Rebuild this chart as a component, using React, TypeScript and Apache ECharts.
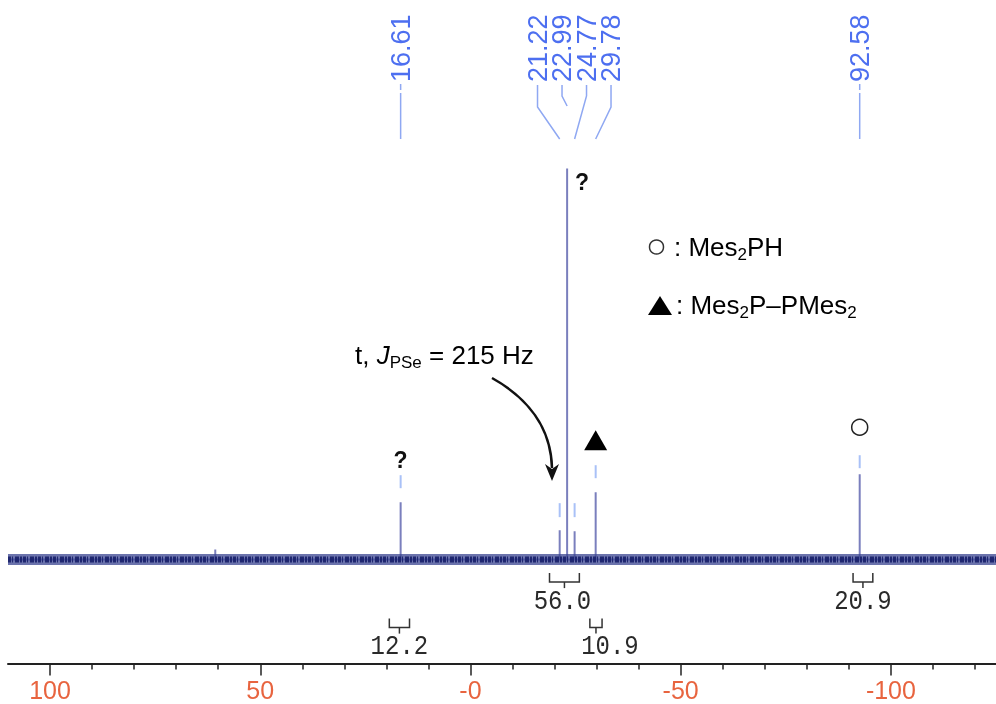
import React, { useEffect, useRef } from "react";
import * as echarts from "echarts";

// x axis (ppm)
const axisMin = -125;
const axisMax = 110;
const majorTicks = [100, 50, 0, -50, -100];
const minorTicks = [90, 80, 70, 60, 40, 30, 20, 10, -10, -20, -30, -40, -60, -70, -80, -90, -110, -120];

// spectrum peaks (ppm, relative intensity)
const peakPpm = [60.7, 16.61, -21.22, -22.99, -24.77, -29.78, -92.58];
const peakIntensity = [10, 57.5, 29.5, 391.5, 28.5, 67.5, 85.5];

// peak-pick labels
const labelPpm = [16.61, -21.22, -22.99, -24.77, -29.78, -92.58];
const labelText = ["16.61", "21.22", "22.99", "24.77", "29.78", "92.58"];
const labelGroup = [0, 1, 1, 1, 1, 2];

// peak-pick markers
const markerPpm = [16.61, -21.22, -24.77, -29.78, -92.58];
const markerLow = [71.5, 42.5, 42.5, 81.5, 91.5];
const markerHigh = [84.5, 56.5, 56.5, 94.5, 104.5];

// integrals
const integralFrom = [19.3, -18.8, -28.4, -91.0];
const integralTo = [14.5, -25.9, -31.3, -95.7];
const integralValue = ["12.2", "56.0", "10.9", "20.9"];
const integralRow = [1, 0, 1, 0];

// annotations
const questionPpm = [16.61, -22.99];
const questionLevel = [100, 378];
const trianglePoint = [[-29.78, 119.5]];
const circlePoint = [[-92.58, 132.5]];

// layout-only constants
const LABEL_GAP = 24.5;
const shortLead = [false, false, true, false, false, false];
const integralTextDx = [0, -2, 14, 0];
const questionDx = [0, 15];

const FONT = '"Liberation Sans", Arial, sans-serif';

export default function App() {
  const ref = useRef<HTMLDivElement>(null);

  useEffect(() => {
    if (!ref.current) return;
    const chart = echarts.init(ref.current, undefined, { renderer: "svg" });

    const spectrum: number[][] = [[axisMax, 0]];
    peakPpm.forEach((p, i) => {
      spectrum.push([p, 0], [p, peakIntensity[i]], [p, 0]);
    });
    spectrum.push([axisMin, 0]);

    const sub = { fontSize: 17, lineHeight: 17, verticalAlign: "bottom", fontFamily: FONT, color: "#111" };
    const norm = { fontSize: 26, lineHeight: 32, fontFamily: FONT, color: "#111" };

    chart.setOption({
      animation: false,
      textStyle: { fontFamily: FONT },
      grid: { left: 8, right: 0, top: 160, bottom: 40.5 },
      xAxis: [
        {
          type: "value",
          min: axisMin,
          max: axisMax,
          inverse: true,
          position: "bottom",
          splitLine: { show: false },
          axisLine: { onZero: false, lineStyle: { color: "#222", width: 2 } },
          axisTick: { customValues: majorTicks, length: 12, lineStyle: { color: "#222", width: 1.5 } },
          axisLabel: {
            customValues: majorTicks,
            formatter: (v: number) => (v === 0 ? "-0" : String(v)),
            color: "#e8643f",
            fontSize: 25,
            fontFamily: FONT,
            margin: 14,
          },
        },
        {
          type: "value",
          min: axisMin,
          max: axisMax,
          inverse: true,
          position: "bottom",
          splitLine: { show: false },
          axisLine: { show: false, onZero: false },
          axisTick: { customValues: minorTicks, length: 6, lineStyle: { color: "#222", width: 1.5 } },
          axisLabel: { show: false },
        },
      ],
      yAxis: { type: "value", min: -104, max: 400, show: false },
      series: [
        {
          type: "line",
          data: spectrum,
          showSymbol: false,
          silent: true,
          lineStyle: { color: "#7a7fbd", width: 2 },
          z: 2,
        },
        {
          type: "line",
          data: [[axisMax, 0], [axisMin, 0]],
          showSymbol: false,
          silent: true,
          lineStyle: { color: "#3a4490", width: 11, opacity: 0.75 },
          z: 3,
        },
        {
          type: "line",
          data: [[axisMax, 0], [axisMin, 0]],
          showSymbol: false,
          silent: true,
          lineStyle: { color: "#18206a", width: 6, type: [3, 1, 1, 2, 4, 1, 2, 1], opacity: 0.9 },
          z: 4,
        },
        {
          type: "custom",
          clip: false,
          silent: true,
          data: markerPpm.map((p, i) => [p, markerLow[i], markerHigh[i]]),
          renderItem: (params: any, api: any) => {
            const a = api.coord([api.value(0), api.value(1)]);
            const b = api.coord([api.value(0), api.value(2)]);
            return {
              type: "line",
              shape: { x1: a[0], y1: a[1], x2: b[0], y2: b[1] },
              style: { stroke: "#a9c1f7", lineWidth: 2 },
            };
          },
        },
        {
          type: "custom",
          clip: false,
          silent: true,
          data: labelPpm.map((p) => [p, 0]),
          renderItem: (params: any, api: any) => {
            const i = params.dataIndex;
            const px = api.coord([labelPpm[i], 0])[0];
            const g = labelGroup[i];
            const members = labelPpm.map((_, j) => j).filter((j) => labelGroup[j] === g);
            const k = members.indexOf(i);
            const center = members.reduce((s, j) => s + api.coord([labelPpm[j], 0])[0], 0) / members.length;
            const lx = center + (k - (members.length - 1) / 2) * LABEL_GAP;
            const lineStyle = { stroke: "#8fa8f2", lineWidth: 1.5, fill: null };
            const children: any[] = [
              {
                type: "text",
                x: lx,
                y: 82,
                rotation: Math.PI / 2,
                style: {
                  text: labelText[i],
                  x: 0,
                  y: 0,
                  align: "left",
                  verticalAlign: "middle",
                  font: `27px ${FONT}`,
                  fill: "#4d6ff0",
                },
              },
            ];
            if (members.length === 1) {
              children.push({ type: "line", shape: { x1: lx, y1: 84, x2: lx, y2: 90 }, style: lineStyle });
              children.push({ type: "line", shape: { x1: lx, y1: 93, x2: px, y2: 139 }, style: lineStyle });
            } else {
              const outer = k === 0 || k === members.length - 1;
              const bend = outer ? 107 : 96;
              const end = shortLead[i] ? 106 : 139;
              children.push({
                type: "polyline",
                shape: { points: [[lx, 85], [lx, bend], [px, end]] },
                style: lineStyle,
              });
            }
            return { type: "group", children };
          },
        },
        {
          type: "custom",
          clip: false,
          silent: true,
          data: integralFrom.map((f, i) => [f, integralTo[i], integralRow[i]]),
          renderItem: (params: any, api: any) => {
            const i = params.dataIndex;
            const x1 = api.coord([api.value(0), 0])[0];
            const x2 = api.coord([api.value(1), 0])[0];
            const base = api.coord([0, 0])[1];
            const top = base + 13.5 + api.value(2) * 45.5;
            const mid = (x1 + x2) / 2;
            const st = { stroke: "#333", lineWidth: 1.5, fill: null };
            return {
              type: "group",
              children: [
                { type: "polyline", shape: { points: [[x1, top], [x1, top + 9], [x2, top + 9], [x2, top]] }, style: st },
                { type: "line", shape: { x1: mid, y1: top + 9, x2: mid, y2: top + 15 }, style: st },
                {
                  type: "text",
                  x: mid + integralTextDx[i],
                  y: top + 28,
                  scaleY: 1.15,
                  style: {
                    text: integralValue[i],
                    align: "center",
                    verticalAlign: "middle",
                    font: '24px "Liberation Mono", "DejaVu Sans Mono", monospace',
                    fill: "#2a2a2a",
                  },
                },
              ],
            };
          },
        },
        {
          type: "custom",
          clip: false,
          silent: true,
          data: questionPpm.map((p, i) => [p, questionLevel[i]]),
          renderItem: (params: any, api: any) => {
            const i = params.dataIndex;
            const c = api.coord([api.value(0), api.value(1)]);
            return {
              type: "text",
              x: c[0] + questionDx[i],
              y: c[1],
              style: {
                text: "?",
                align: "center",
                verticalAlign: "middle",
                font: `bold 23px ${FONT}`,
                fill: "#111",
              },
            };
          },
        },
        {
          type: "scatter",
          data: trianglePoint,
          symbol: "triangle",
          symbolSize: [23, 20],
          silent: true,
          itemStyle: { color: "#000", opacity: 1 },
        },
        {
          type: "scatter",
          data: circlePoint,
          symbol: "circle",
          symbolSize: 16,
          silent: true,
          itemStyle: { color: "#fff", borderColor: "#222", borderWidth: 1.5, opacity: 1 },
        },
      ],
      graphic: [
        { type: "circle", shape: { cx: 656.5, cy: 247, r: 7 }, style: { stroke: "#333", lineWidth: 1.5, fill: "none" } },
        {
          type: "text",
          x: 674,
          y: 247,
          style: {
            text: "{n|: Mes}{s|2}{n|PH}",
            verticalAlign: "middle",
            rich: { n: norm, s: sub },
          },
        },
        { type: "polygon", shape: { points: [[648, 315], [660, 296], [672, 315]] }, style: { fill: "#000" } },
        {
          type: "text",
          x: 676,
          y: 305,
          style: {
            text: "{n|: Mes}{s|2}{n|P–PMes}{s|2}",
            verticalAlign: "middle",
            rich: { n: norm, s: sub },
          },
        },
        {
          type: "text",
          x: 355,
          y: 355,
          style: {
            text: "{n|t, }{i|J}{s|PSe}{n| = 215 Hz}",
            verticalAlign: "middle",
            rich: {
              n: { fontSize: 26, lineHeight: 32, fontFamily: FONT, color: "#111" },
              i: { fontSize: 26, lineHeight: 32, fontFamily: FONT, fontStyle: "italic", color: "#111" },
              s: { fontSize: 17, lineHeight: 17, verticalAlign: "bottom", fontFamily: FONT, color: "#111" },
            },
          },
        },
        {
          type: "bezierCurve",
          shape: { x1: 492, y1: 378, cpx1: 528, cpy1: 398, cpx2: 551, cpy2: 428, x2: 552, y2: 468 },
          style: { stroke: "#111", lineWidth: 2.5, fill: "none" },
        },
        {
          type: "polygon",
          shape: { points: [[552, 481], [545, 464], [552, 469], [559, 464]] },
          style: { fill: "#111" },
        },
      ],
    });

    return () => chart.dispose();
  }, []);

  return <div ref={ref} style={{ position: "fixed", left: 0, top: 0, width: 996, height: 704 }} />;
}
